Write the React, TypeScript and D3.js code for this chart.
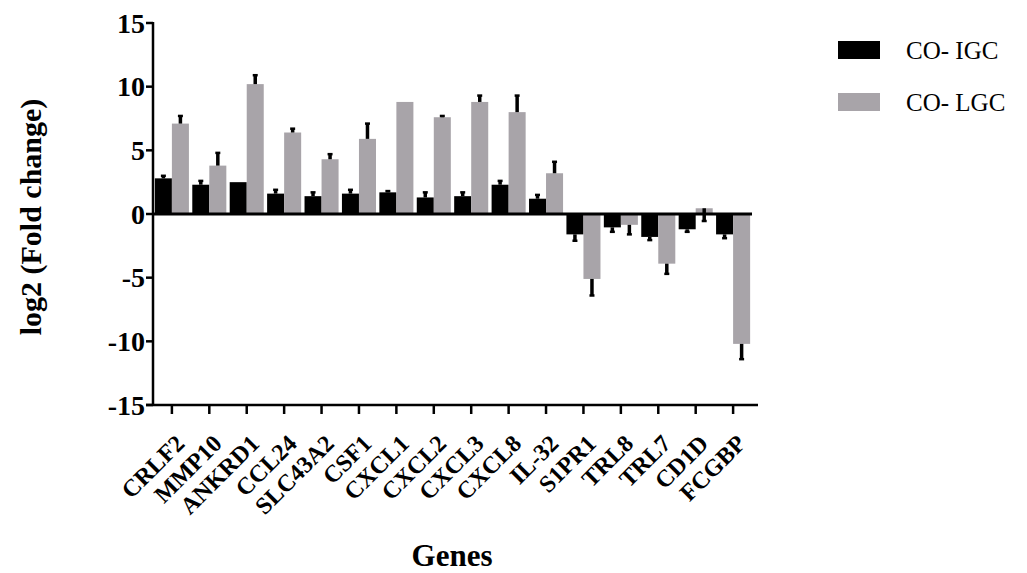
import React from "react";
import * as d3 from "d3";

const genes = ["CRLF2", "MMP10", "ANKRD1", "CCL24", "SLC43A2", "CSF1", "CXCL1", "CXCL2", "CXCL3", "CXCL8", "IL-32", "S1PR1", "TRL8", "TRL7", "CD1D", "FCGBP"];
const series = ["CO- IGC", "CO- LGC"];
const igc = [2.8, 2.3, 2.5, 1.6, 1.4, 1.6, 1.7, 1.3, 1.4, 2.3, 1.2, -1.6, -1.05, -1.8, -1.2, -1.6];
const lgc = [7.1, 3.8, 10.2, 6.4, 4.3, 5.9, 8.8, 7.6, 8.8, 8.0, 3.2, -5.1, -0.85, -3.9, 0.45, -10.2];
// signed error offsets (drawn from bar end)
const igcErr = [0.2, 0.3, 0.0, 0.3, 0.3, 0.3, 0.1, 0.4, 0.3, 0.3, 0.3, -0.5, -0.35, -0.25, -0.2, -0.3];
const lgcErr = [0.6, 1.0, 0.7, 0.3, 0.4, 1.2, 0.0, 0.1, 0.5, 1.3, 0.9, -1.3, -0.75, -0.8, -1.0, -1.2];
const yTicks = [15, 10, 5, 0, -5, -10, -15];

const colors = ["#000000", "#a8a4a9"];
const font = "'Liberation Serif', 'Times New Roman', Times, serif";

export default function App() {
  const left = 153, right = 752, top = 23, bottom = 405;
  const x0 = d3.scaleBand<string>().domain(genes).range([left, right]).paddingInner(0.09).paddingOuter(0.05);
  const x1 = d3.scaleBand<string>().domain(series).range([0, x0.bandwidth()]);
  const y = d3.scaleLinear().domain([-15, 15]).range([bottom, top]);
  const vals = [igc, lgc];
  const errs = [igcErr, lgcErr];

  return (
    <svg width={1027} height={573} style={{ position: "absolute", left: 0, top: 0, background: "#fff", fontFamily: font }}>
      {/* bars */}
      {genes.map((g, i) => (
        <g key={g}>
          {series.map((s, k) => {
            const v = vals[k][i];
            const bx = (x0(g) as number) + (x1(s) as number);
            const bw = x1.bandwidth();
            return (
              <rect key={s} x={bx} y={Math.min(y(v), y(0))} width={bw} height={Math.abs(y(v) - y(0))} fill={colors[k]} />
            );
          })}
        </g>
      ))}
      {/* error bars */}
      {genes.map((g, i) => (
        <g key={g + "e"}>
          {series.map((s, k) => {
            const v = vals[k][i];
            const e = errs[k][i];
            if (e === 0) return null;
            const cx = (x0(g) as number) + (x1(s) as number) + x1.bandwidth() / 2;
            return (
              <g key={s}>
                <line x1={cx} x2={cx} y1={y(v)} y2={y(v + e)} stroke="#000" strokeWidth={3.5} />
                <line x1={cx - 2.5} x2={cx + 2.5} y1={y(v + e)} y2={y(v + e)} stroke="#000" strokeWidth={2.5} />
              </g>
            );
          })}
        </g>
      ))}
      {/* zero line */}
      <line x1={left} x2={right} y1={y(0)} y2={y(0)} stroke="#000" strokeWidth={3} />
      {/* y axis */}
      <line x1={left} x2={left} y1={top - 1} y2={bottom} stroke="#000" strokeWidth={2.5} />
      {yTicks.map((t) => (
        <g key={t}>
          <line x1={left - 7} x2={left} y1={y(t)} y2={y(t)} stroke="#000" strokeWidth={2.5} />
          <text x={left - 8} y={y(t)} dy="0.34em" textAnchor="end" style={{ fontFamily: font, fontWeight: "bold", fontSize: 28 }}>
            {t}
          </text>
        </g>
      ))}
      {/* x axis */}
      <line x1={left - 7} x2={right + 6} y1={bottom} y2={bottom} stroke="#000" strokeWidth={2.5} />
      {genes.map((g) => {
        const cx = (x0(g) as number) + x0.bandwidth() / 2;
        return (
          <g key={g + "t"}>
            <line x1={cx} x2={cx} y1={bottom} y2={bottom + 9} stroke="#000" strokeWidth={2.5} />
            <text
              transform={`translate(${cx + 14},${bottom + 40}) rotate(-45)`}
              textAnchor="end"
              style={{ fontFamily: font, fontWeight: "bold", fontSize: 24 }}
            >
              {g}
            </text>
          </g>
        );
      })}
      {/* axis titles */}
      <text transform={`translate(41,217) rotate(-90)`} textAnchor="middle" style={{ fontFamily: font, fontWeight: "bold", fontSize: 30 }}>
        log2 (Fold change)
      </text>
      <text x={452} y={566} textAnchor="middle" style={{ fontFamily: font, fontWeight: "bold", fontSize: 31 }}>
        Genes
      </text>
      {/* legend */}
      {series.map((s, k) => (
        <g key={s} transform={`translate(838,${41 + k * 52})`}>
          <rect width={42} height={18} fill={colors[k]} />
          <text x={68} y={18} style={{ fontFamily: font, fontSize: 25 }}>
            {s}
          </text>
        </g>
      ))}
    </svg>
  );
}
